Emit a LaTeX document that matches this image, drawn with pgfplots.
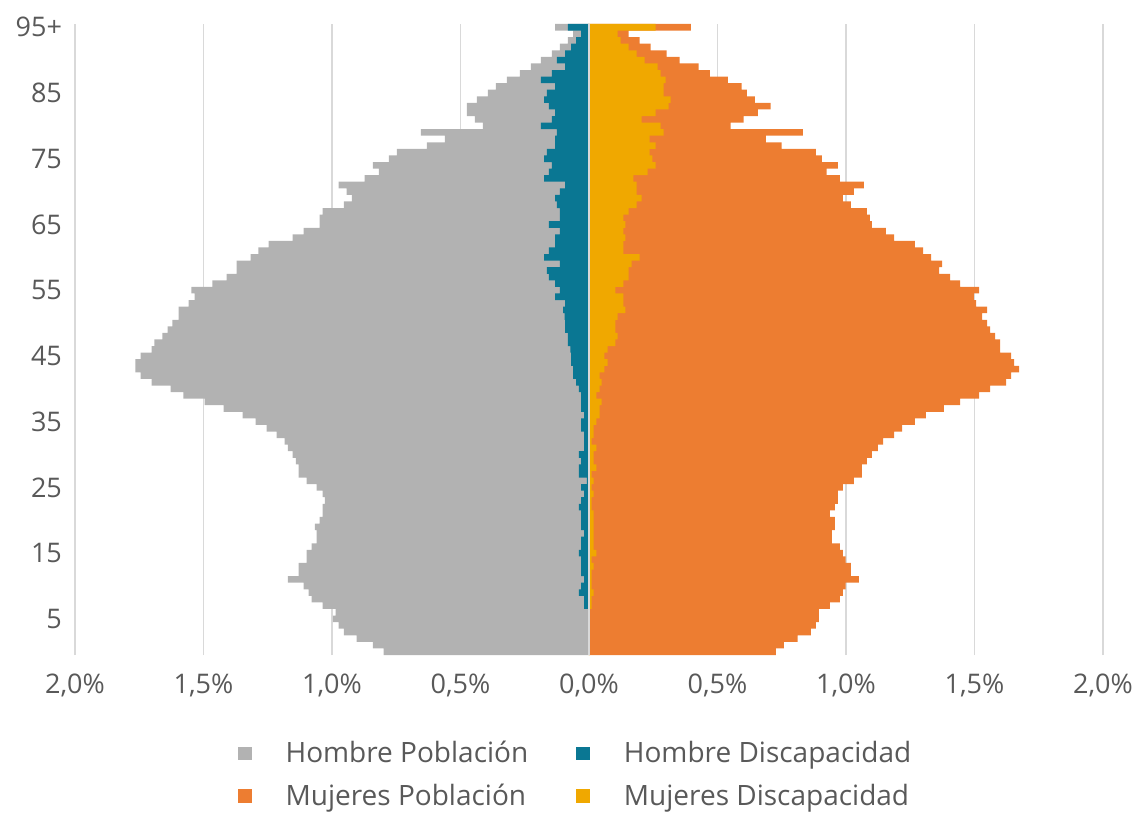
\documentclass[border=0pt]{standalone}
\usepackage{fontspec}
\setmainfont{Open Sans}
\usepackage{pgfplots}
\usepackage{pgfplotstable}
\pgfplotsset{compat=1.18}
\definecolor{hgray}{HTML}{B2B2B2}
\definecolor{hblue}{HTML}{0A7793}
\definecolor{morange}{HTML}{ED7D31}
\definecolor{myellow}{HTML}{F0A800}
\definecolor{txt}{HTML}{595959}
\definecolor{gridc}{HTML}{D9D9D9}

% age, Hombre Poblacion (neg.), Hombre Discapacidad (neg.), Mujeres Poblacion, Mujeres Discapacidad
\pgfplotstableread{
age hp hd mp md
0 -0.799 0 0.727 0.003
1 -0.841 0 0.758 0.003
2 -0.904 0 0.812 0.003
3 -0.954 0 0.863 0.003
4 -0.974 0 0.883 0.003
5 -0.997 0 0.894 0.003
6 -0.986 0 0.894 0.003
7 -1.036 -0.019 0.937 0.010
8 -1.079 -0.019 0.976 0.010
9 -1.091 -0.039 0.988 0.018
10 -1.110 -0.031 0.999 0.010
11 -1.172 -0.019 1.050 0.010
12 -1.130 -0.031 1.019 0.010
13 -1.130 -0.031 1.019 0.018
14 -1.099 -0.031 0.999 0.010
15 -1.099 -0.039 0.988 0.029
16 -1.079 -0.031 0.976 0.018
17 -1.060 -0.031 0.945 0.018
18 -1.060 -0.019 0.945 0.018
19 -1.067 -0.031 0.957 0.018
20 -1.048 -0.031 0.957 0.018
21 -1.036 -0.031 0.937 0.018
22 -1.036 -0.039 0.957 0.010
23 -1.028 -0.031 0.968 0.010
24 -1.036 -0.019 0.968 0.018
25 -1.060 -0.031 0.988 0.010
26 -1.099 -0.008 1.031 0.018
27 -1.130 -0.039 1.062 0.010
28 -1.130 -0.039 1.062 0.029
29 -1.141 -0.031 1.081 0.018
30 -1.153 -0.039 1.101 0.018
31 -1.172 -0.019 1.124 0.029
32 -1.184 -0.019 1.144 0.010
33 -1.215 -0.019 1.187 0.018
34 -1.254 -0.031 1.218 0.018
35 -1.297 -0.031 1.268 0.029
36 -1.348 -0.019 1.311 0.041
37 -1.422 -0.031 1.381 0.041
38 -1.496 -0.031 1.444 0.049
39 -1.578 -0.031 1.518 0.029
40 -1.628 -0.039 1.561 0.041
41 -1.702 -0.050 1.623 0.049
42 -1.745 -0.062 1.643 0.041
43 -1.765 -0.062 1.674 0.060
44 -1.765 -0.070 1.654 0.072
45 -1.745 -0.070 1.643 0.060
46 -1.702 -0.072 1.600 0.072
47 -1.691 -0.082 1.600 0.103
48 -1.660 -0.082 1.580 0.111
49 -1.640 -0.093 1.561 0.103
50 -1.621 -0.093 1.549 0.103
51 -1.597 -0.095 1.530 0.111
52 -1.597 -0.101 1.549 0.142
53 -1.558 -0.093 1.506 0.134
54 -1.535 -0.132 1.498 0.134
55 -1.547 -0.113 1.518 0.103
56 -1.465 -0.132 1.444 0.134
57 -1.410 -0.156 1.405 0.154
58 -1.371 -0.164 1.362 0.154
59 -1.371 -0.113 1.374 0.166
60 -1.317 -0.175 1.331 0.197
61 -1.286 -0.156 1.300 0.134
62 -1.247 -0.132 1.268 0.134
63 -1.153 -0.132 1.187 0.142
64 -1.110 -0.113 1.155 0.134
65 -1.048 -0.156 1.101 0.142
66 -1.048 -0.113 1.093 0.134
67 -1.036 -0.113 1.081 0.154
68 -0.954 -0.125 1.019 0.185
69 -0.923 -0.132 0.988 0.205
70 -0.943 -0.113 1.031 0.185
71 -0.974 -0.093 1.070 0.185
72 -0.873 -0.175 0.976 0.173
73 -0.818 -0.156 0.925 0.228
74 -0.841 -0.144 0.968 0.259
75 -0.779 -0.175 0.906 0.247
76 -0.748 -0.164 0.883 0.236
77 -0.631 -0.132 0.750 0.259
78 -0.561 -0.132 0.688 0.236
79 -0.654 -0.125 0.832 0.290
80 -0.413 -0.187 0.551 0.279
81 -0.444 -0.144 0.602 0.205
82 -0.475 -0.132 0.657 0.259
83 -0.475 -0.156 0.707 0.310
84 -0.436 -0.175 0.645 0.318
85 -0.393 -0.164 0.614 0.290
86 -0.362 -0.132 0.594 0.290
87 -0.320 -0.187 0.540 0.298
88 -0.269 -0.144 0.470 0.279
89 -0.226 -0.093 0.427 0.267
90 -0.187 -0.125 0.353 0.216
91 -0.144 -0.093 0.302 0.185
92 -0.113 -0.070 0.240 0.154
93 -0.082 -0.050 0.197 0.123
94 -0.062 -0.031 0.154 0.111
95 -0.132 -0.082 0.396 0.259
}\pyramid

\begin{document}
\begin{tikzpicture}
\useasboundingbox (-37.5pt,-79.5pt) rectangle (536pt,327.5pt);
\begin{axis}[
  at={(0,0)}, anchor=south west,
  scale only axis, width=514pt, height=315.5pt,
  xmin=-2, xmax=2, ymin=-0.5, ymax=95.5,
  xtick={-2,-1.5,-1,-0.5,0,0.5,1,1.5,2},
  xticklabels={{2,0\%},{1,5\%},{1,0\%},{0,5\%},{0,0\%},{0,5\%},{1,0\%},{1,5\%},{2,0\%}},
  ytick={5,15,25,35,45,55,65,75,85,95},
  yticklabels={5,15,25,35,45,55,65,75,85,95+},
  axis line style={draw=none},
  major tick length=0pt,
  xmajorgrids,
  major grid style={draw=gridc, line width=0.75pt},
  tick label style={font=\fontsize{13.5}{16}\selectfont, text=txt},
  xticklabel style={yshift=-6pt},
  yticklabel style={xshift=-3pt},
  pbar/.style={xbar, bar width=1, bar shift=0pt, draw=none},
  legend columns=2,
  legend cell align=left,
  legend image code/.code={\fill[#1] (0pt,-3.4pt) rectangle (6.8pt,3.4pt);},
  legend style={at={(0.488,-0.13)}, anchor=north, draw=none, fill=none,
    inner sep=0pt, font=\fontsize{14}{16}\selectfont, text=txt,
    row sep=5pt,
    /tikz/column 1/.style={column sep=15pt},
    /tikz/column 2/.style={column sep=22pt},
    /tikz/column 3/.style={column sep=15pt}},
]
\addplot[pbar, fill=hgray] table[x=hp, y=age] {\pyramid};
\addlegendentry{Hombre Población}
\addplot[pbar, fill=hblue] table[x=hd, y=age] {\pyramid};
\addlegendentry{Hombre Discapacidad}
\addplot[pbar, fill=morange] table[x=mp, y=age] {\pyramid};
\addlegendentry{Mujeres Población}
\addplot[pbar, fill=myellow] table[x=md, y=age] {\pyramid};
\addlegendentry{Mujeres Discapacidad}
\draw[gridc, line width=1pt] (axis cs:0,-0.5) -- (axis cs:0,95.5);
\end{axis}
\end{tikzpicture}
\end{document}
